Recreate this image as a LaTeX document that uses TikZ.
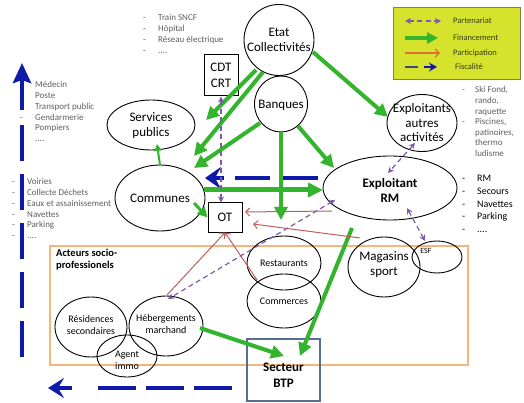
\documentclass[tikz,border=0pt]{standalone}
\usepackage{fontspec}
\setmainfont{Carlito}
\usetikzlibrary{arrows.meta,shapes.geometric,calc}
\definecolor{fin}{RGB}{50,180,45}
\definecolor{fisc}{RGB}{15,25,170}
\definecolor{fiscdark}{RGB}{60,70,130}
\definecolor{part}{RGB}{128,90,170}
\definecolor{partic}{RGB}{192,95,90}
\definecolor{partleg}{RGB}{226,110,50}
\definecolor{orbox}{RGB}{245,180,120}
\definecolor{legbg}{RGB}{214,227,45}
\definecolor{legline}{RGB}{130,130,70}
\definecolor{legtxt}{RGB}{50,60,20}
\definecolor{btpc}{RGB}{85,110,145}
\definecolor{lgray}{RGB}{95,95,95}
\newcommand{\zt}[2][0pt]{\smash{\raisebox{\dimexpr-0.32em-#1\relax}{\makebox[0pt]{\begin{tabular}{@{}c@{}}#2\end{tabular}}}}}
\newcommand{\fdots}{.\kern0pt.\kern0pt.\kern0pt.}
\begin{document}
\begin{tikzpicture}[x=1pt,y=-1pt,
  ell/.style={draw, ellipse, line width=0.9pt, inner sep=0pt, outer sep=0pt, font=\fontsize{13}{14.5}\selectfont},
  sell/.style={ell, font=\fontsize{10}{12}\selectfont},
  rbox/.style={draw, rectangle, line width=1pt, inner sep=0pt, font=\fontsize{13}{16}\selectfont},
  lst/.style={font=\fontsize{9}{10.8}\selectfont, text=lgray, inner sep=0pt, anchor=base west},
  lstb/.style={font=\fontsize{10}{12}\selectfont, text=black, inner sep=0pt, anchor=base west},
  legt/.style={font=\fontsize{8.5}{10}\selectfont, text=legtxt, inner sep=0pt, anchor=west},
  gr/.style={draw=fin, line width=4pt, -{Triangle[length=13pt,width=13pt]}},
  bl/.style={draw=fisc, line width=4.5pt},
  pu/.style={draw=part, line width=1.2pt, dash pattern=on 5pt off 3.5pt, {Stealth[length=6pt,width=6pt]}-{Stealth[length=6pt,width=6pt]}},
  re/.style={draw=partic, line width=1pt, -{Straight Barb[length=4pt,width=8pt]}}
]
\useasboundingbox (0,0) rectangle (524,403);
\fill[white] (0,0) rectangle (524,403);

% legend
\draw[legline, fill=legbg, line width=0.8pt] (393,7) rectangle (520,79);
\draw[pu] (405,21) -- (441,21);
\node[legt] (lg1) at (453,21) {Partenariat};
\draw[draw=fin, line width=4pt, -{Triangle[length=11pt,width=11pt]}] (405,38) -- (438,38);
\node[legt] (lg2) at (453,38) {Financement};
\draw[draw=partleg, line width=1.2pt, -{Straight Barb[length=4pt,width=8pt]}] (405,53) -- (440,53);
\node[legt] (lg3) at (453,53) {Participation};
\draw[fiscdark, line width=2.5pt] (405,67) -- (418,67);
\draw[fisc, line width=2.5pt, -{Stealth[length=8pt,width=9pt]}] (424,67) -- (437,67);
\node[legt] (lg4) at (455,67) {Fiscalité};

% acteurs box
\draw[orbox, line width=1.5pt] (50,246) rectangle (468,365);
\node[anchor=north west, align=left, inner sep=0pt, font=\bfseries\fontsize{10.5}{12}\selectfont] (act) at (56,249) {Acteurs socio-\\professionels};

% lists
\foreach \t [count=\i from 0] in {Train SNCF,Hôpital,Réseau électrique,\fdots}{
  \node[lst] (tl\i) at (158,21+11*\i) {\t};
  \node[lst] (tld\i) at (143,21+11*\i) {-};
}
\foreach \t [count=\i from 0] in {Médecin,Poste,Transport public,Gendarmerie,Pompiers,\fdots}{
  \node[lst] (la\i) at (35,88+10.7*\i) {\t};
  \node[lst] (lad\i) at (20,88+10.7*\i) {-};
}
\foreach \t [count=\i from 0] in {Voiries,Collecte Déchets,Eaux et assainissement,Navettes,Parking,\fdots}{
  \node[lst] (lb\i) at (27,185+10.7*\i) {\t};
  \node[lst] (lbd\i) at (12,185+10.7*\i) {-};
}
\foreach \t [count=\i from 0] in {{Ski Fond,},{rando,},raquette,{Piscines,},{patinoires,},thermo,ludisme}{
  \node[lst] (ra\i) at (475,93+10.6*\i) {\t};
}
\node[lst] (rad0) at (462,93) {-};
\node[lst] (rad1) at (462,124.8) {-};
\foreach \t [count=\i from 0] in {RM,Secours,Navettes,Parking,\fdots}{
  \node[lstb] (rb\i) at (477,181.5+12.8*\i) {\t};
  \node[lstb] (rbd\i) at (462,181.5+12.8*\i) {-};
}

% nodes
\node[ell, minimum width=70pt, minimum height=71pt] (etat) at (279,40) {\zt{Etat\\Collectivités}};
\node[ell, minimum width=53pt, minimum height=56pt] (banq) at (281,104) {\zt{Banques}};
\node[ell, minimum width=88pt, minimum height=50pt] (sp) at (151,125) {\zt{Services\\publics}};
\node[ell, minimum width=90pt, minimum height=66pt] (comm) at (160,198) {\zt{Communes}};
\node[ell, minimum width=70pt, minimum height=57pt] (autres) at (422,123) {\zt{Exploitants\\autres\\activités}};
\node[ell, minimum width=134pt, minimum height=64pt] (rm) at (390,188) {\zt[3pt]{\textbf{Exploitant}\\\textbf{RM}}};
\node[ell, minimum width=72pt, minimum height=60pt] (mag) at (384,267) {\zt[-3pt]{Magasins\\sport}};
\node[ell, minimum width=50pt, minimum height=32pt] (esf) at (437,257) {};
\node[font=\fontsize{8}{9}\selectfont, inner sep=0pt] (esft) at (426,251) {ESF};
\node[sell, minimum width=74pt, minimum height=54pt] (rest) at (284,263) {\zt{Restaurants}};
\node[sell, minimum width=74pt, minimum height=54pt] (comc) at (284,301) {\zt{Commerces}};
\node[sell, minimum width=72pt, minimum height=60pt] (resid) at (91,327) {\zt[-2pt]{Résidences\\secondaires}};
\node[sell, minimum width=74pt, minimum height=60pt] (heb) at (166,326) {\zt[-2pt]{Hébergements\\marchand}};
\node[sell, minimum width=60pt, minimum height=42pt] (agent) at (127,356) {\zt[4pt]{Agent\\immo}};
\node[rbox, minimum width=34pt, minimum height=41pt] (cdt) at (221,75.5) {\zt{CDT\\CRT}};
\node[rbox, minimum width=34pt, minimum height=29pt] (ot) at (225,217.5) {\zt{OT}};
\node[rbox, draw=btpc, line width=1.2pt, minimum width=73pt, minimum height=62pt] (btp) at (283.5,370) {\zt[5pt]{\textbf{Secteur}\\\textbf{BTP}}};

% Fiscalite (blue)
\draw[bl, dash pattern=on 36pt off 13pt] (22,357) -- (22,123);
\draw[bl, -{Stealth[length=20pt,width=18pt,inset=3pt]}] (22,110) -- (22,63);
\draw[bl, dash pattern=on 38pt off 10pt] (232,388) -- (95,388);
\draw[bl, -{Stealth[length=16pt,width=20pt,inset=6pt]}] (72,388) -- (48,388);
\draw[bl, dash pattern=on 35pt off 13pt] ($(rm)+(-72,-10)$) -- ($(comm)+(73,-20)$);
\draw[bl, -{Stealth[length=16pt,width=22pt,inset=6pt]}] ($(comm)+(64,-20)$) -- ($(comm)+(45,-20)$);

% Financement (green)
\draw[gr] ($(etat)+(-23,30)$) -- ($(sp)+(55,-5)$);
\draw[gr] ($(etat)+(-16,32)$) -- ($(comm)+(34,-42)$);
\draw[gr] ($(banq)+(-21,19)$) -- ($(comm)+(34,-30)$);
\draw[gr] ($(etat)+(34,12)$) -- ($(autres)+(-34,-6)$);
\draw[gr] ($(banq)+(17,22)$) -- ($(rm)+(-56,-20)$);
\draw[gr] (banq.south) -- ($(banq)+(0,116)$);
\draw[gr, line width=5pt, -{Triangle[length=15pt,width=14pt]}] ($(comm)+(44,-8)$) -- ($(rm)+(-67,2)$);
\draw[gr, line width=3pt, -{Triangle[length=10pt,width=10pt]}] ($(comm)+(34,5)$) -- (ot.west);
\draw[gr, line width=2pt, -{Triangle[length=7pt,width=7pt]}] (comm.north) -- ($(sp)+(6,19)$);
\draw[gr] ($(rm)+(-38,40)$) -- ($(btp)+(16.5,-14)$);
\draw[gr] ($(heb)+(34,2)$) -- ($(btp)+(0.5,-14)$);

% Participation (red)
\draw[re] ($(rm)+(-58,23)$) -- ($(ot)+(20,-5.5)$);
\draw[re] ($(mag)+(-24,-29)$) -- ($(ot)+(28,6.5)$);
\draw[re] ($(heb)+(1,-31)$) -- (ot.south);
\draw[re] ($(comc)+(-27,-21)$) -- (ot.south);

% Partenariat (purple)
\draw[pu] (cdt.south) -- (cdt.south |- ot.north);
\draw[pu] ($(autres)+(-7,20)$) -- ($(rm)+(-2,-15)$);
\draw[pu] ($(rm)+(17,20)$) -- ($(esf)+(-12,-16)$);
\draw[pu] ($(rm)+(-55,12)$) -- ($(heb)+(2,-27)$);
\end{tikzpicture}
\end{document}
